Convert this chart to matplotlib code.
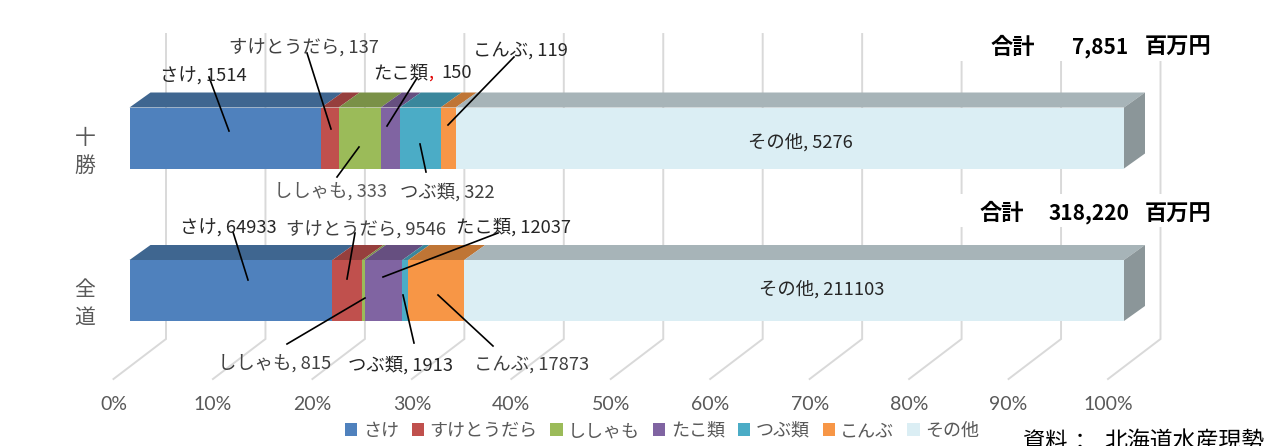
import numpy as np
import matplotlib
matplotlib.use('Agg')
import matplotlib.pyplot as plt
from matplotlib.patches import Polygon, Rectangle

plt.rcParams['font.family'] = ['Noto Sans CJK JP', 'DejaVu Sans']

# Data
species = ['さけ', 'すけとうだら', 'ししゃも', 'たこ類', 'つぶ類', 'こんぶ', 'その他']
tokachi = [1514, 137, 333, 150, 322, 119, 5276]
zendo = [64933, 9546, 815, 12037, 1913, 17873, 211103]
tick_values = [0, 10, 20, 30, 40, 50, 60, 70, 80, 90, 100]

colors = ['#4F81BD', '#C0504D', '#9BBB59', '#8064A2', '#4BACC6', '#F79646', '#DBEEF4']
top_colors = ['#3F6690', '#963F3D', '#7A9147', '#664F80', '#3A879C', '#BF7535', '#A7B4B8']
side_color = '#8B9699'
grid_color = '#D9D9D9'
gray = '#595959'
dark = '#262626'

# bar front plane in pixels, the whole figure is one axes with y in pixels
X0 = 129.5
PX = 9.945
DEPTH_X = 21
DEPTH_Y = 15


def px(x):
    return (x - X0) / PX


fig = plt.figure(figsize=(12.75, 4.46), dpi=100)
ax = fig.add_axes([0, 0, 1, 1])
ax.set_xlim(px(0), px(1275))
ax.set_ylim(446, 0)
ax.axis('off')

# back wall and floor lines
for t in tick_values:
    xf = t + px(113.5) - px(X0)
    xb = t + px(166) - px(X0)
    ax.plot([xb, xb, xf], [34, 339, 379], color=grid_color, lw=1.4, zorder=1,
            solid_joinstyle='miter')
    ax.text(xf, 405, f'{t}%', ha='center', va='center', color=gray, fontsize=14,
            family=['Lato', 'DejaVu Sans'])

# white text boxes hide the lines behind the totals
ax.add_patch(Rectangle((px(915), 10), px(1275) - px(915), 51, fc='white', ec='none', zorder=2))
ax.add_patch(Rectangle((px(915), 194), px(1275) - px(915), 33, fc='white', ec='none', zorder=2))

rows = [(tokachi, 107.5, '十勝'), (zendo, 260, '全道')]
BAR_H = 61
dx = DEPTH_X / PX
for n, (vals, y_top, cat) in enumerate(rows):
    share = np.array(vals) / sum(vals) * 100
    left = np.concatenate([[0], np.cumsum(share)[:-1]])
    for i in range(len(species)):
        ax.barh(y_top + BAR_H / 2, share[i], left=left[i], height=BAR_H, color=colors[i],
                zorder=4, label=species[i] if n == 0 else None)
        x0, x1 = left[i], left[i] + share[i]
        ax.add_patch(Polygon([(x0, y_top), (x1, y_top), (x1 + dx, y_top - DEPTH_Y),
                              (x0 + dx, y_top - DEPTH_Y)], fc=top_colors[i], ec='none', zorder=3))
    ax.add_patch(Polygon([(100, y_top), (100 + dx, y_top - DEPTH_Y),
                          (100 + dx, y_top + BAR_H - DEPTH_Y), (100, y_top + BAR_H)],
                         fc=side_color, ec='none', zorder=3))
    ax.text(px(85), y_top + 30, cat[0], ha='center', va='center', color=gray, fontsize=15)
    ax.text(px(85), y_top + 58, cat[1], ha='center', va='center', color=gray, fontsize=15)

# data labels: text, centre x, centre y, colour
labels_1 = [('さけ, 1514', 203, 75, dark), ('すけとうだら, 137', 304, 47, '#404040'),
            ('ししゃも, 333', 331, 191, gray), ('つぶ類, 322', 447, 192, '#404040'),
            ('こんぶ, 119', 520, 51, dark), ('その他, 5276', 800, 142, dark)]
labels_2 = [('さけ, 64933', 228, 227, dark), ('すけとうだら, 9546', 366, 229, '#404040'),
            ('たこ類, 12037', 513, 227, dark), ('ししゃも, 815', 275, 363, '#404040'),
            ('つぶ類, 1913', 400, 365, dark), ('こんぶ, 17873', 532, 365, '#404040'),
            ('その他, 211103', 822, 289, dark)]
for txt, x, y, c in labels_1 + labels_2:
    ax.text(px(x), y, txt, ha='center', va='center', color=c, fontsize=13.2, zorder=6)
# this one has a red comma in the original
ax.text(px(373), 73, 'たこ類', ha='left', va='center', color=dark, fontsize=13.2, zorder=6)
ax.text(px(428), 73, ',', ha='left', va='center', color='#E00000', fontsize=13.2, zorder=6)
ax.text(px(472), 73, '150', ha='right', va='center', color=dark, fontsize=13.2, zorder=6)

# leader lines (pixel ends)
leaders = [((209, 77), (229, 131)), ((307, 53), (331, 129)), ((359, 147), (337, 177)),
           ((417, 78), (387, 126)), ((420, 144), (426, 172)), ((514, 57), (448, 125)),
           ((233, 232), (248, 280)), ((355, 233), (347, 279)), ((498, 233), (383, 277)),
           ((365, 298), (287, 344)), ((403, 295), (414, 343)), ((438, 295), (493, 346))]
for a, b in leaders:
    ax.plot([px(a[0]), px(b[0])], [a[1], b[1]], color='black', lw=1.2, zorder=5)

# totals
for y, total, total_x in [(47, '7,851', 1100), (214, '318,220', 1089)]:
    hx = 1013 if y == 47 else 1002
    ax.text(px(hx), y, '合計', ha='center', va='center', fontsize=16, fontweight='bold',
            color='black', zorder=6)
    ax.text(px(total_x), y, total, ha='center', va='center', fontsize=15, fontweight='bold',
            color='black', zorder=6)
    ax.text(px(1178), y, '百万円', ha='center', va='center', fontsize=16, fontweight='bold',
            color='black', zorder=6)

ax.text(px(1023), 442, '資料', ha='left', va='center', fontsize=16, color='black', zorder=6)
ax.text(px(1080), 442, '：', ha='center', va='center', fontsize=16, color='black', zorder=6)
ax.text(px(1264), 442, '北海道水産現勢', ha='right', va='center', fontsize=16.5, color='black', zorder=6)

ax.legend(loc='center', bbox_to_anchor=(662 / 1275, 1 - 431 / 446), ncol=7, frameon=False,
          fontsize=13, labelcolor=gray, handlelength=0.68, handleheight=0.68, handletextpad=0.3,
          columnspacing=0.72, borderpad=0, labelspacing=0)

fig.savefig('out.png', dpi=100)
